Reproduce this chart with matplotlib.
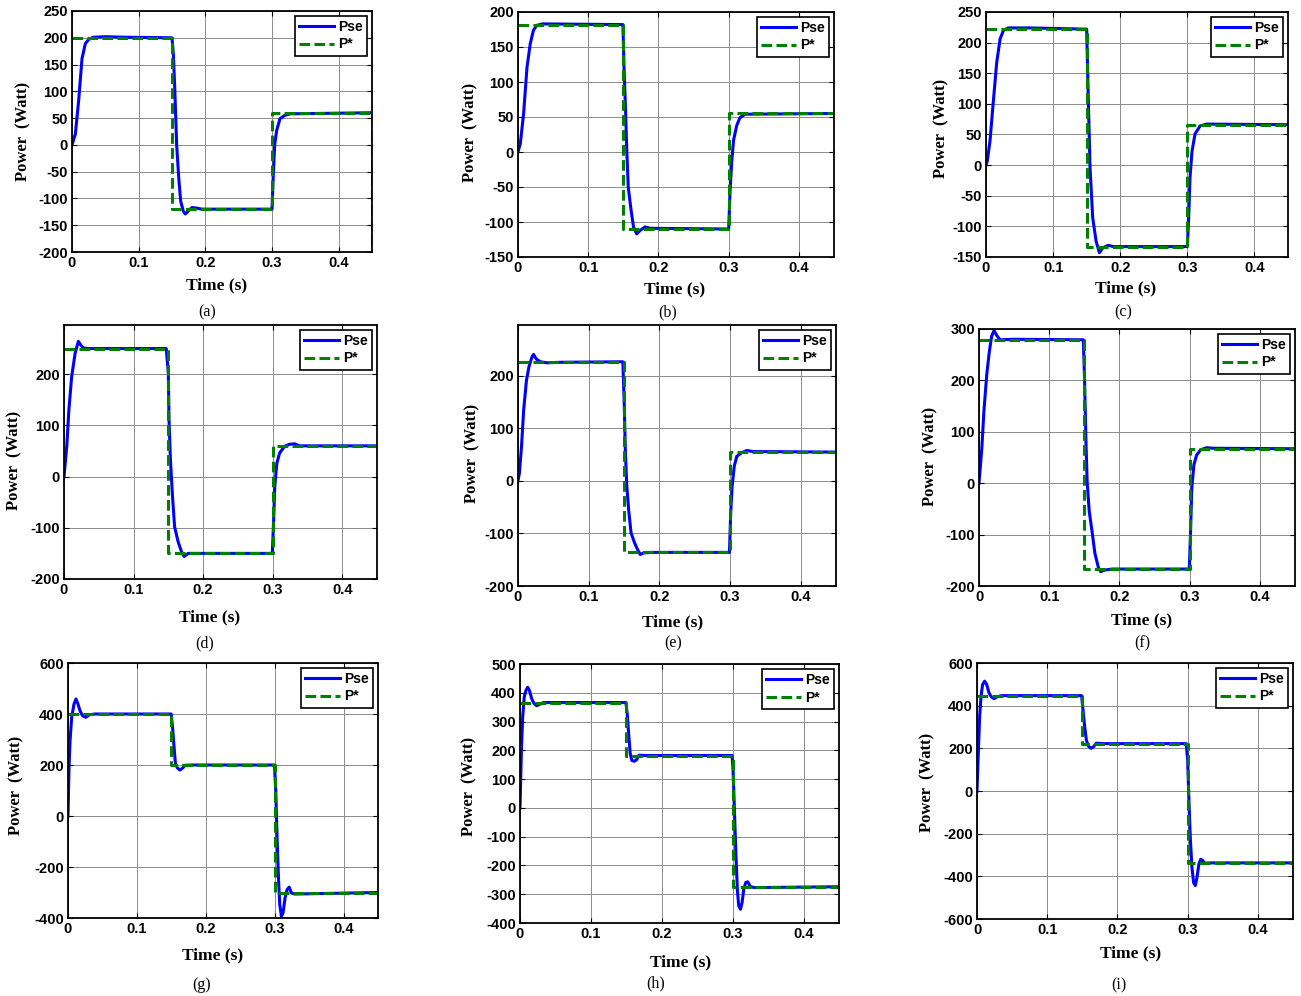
import numpy as np
from matplotlib import pyplot as plt

plt.rcParams['axes.unicode_minus'] = False

# P* reference (step changes at 0.15 s and 0.3 s)
t_ref = [0, 0.15, 0.15, 0.3, 0.3, 0.45]
t_ref_a = [0, 0.15, 0.15, 0.3, 0.3, 0.45, 0.45]
ref_a = [200, 200, -120, -120, 60, 60, -200]
ref_b = [182, 182, -110, -110, 55, 55]
ref_c = [222, 222, -133, -133, 66, 66]
ref_d = [250, 250, -150, -150, 60, 60]
ref_e = [227, 227, -136, -136, 55, 55]
ref_f = [279, 279, -167, -167, 67, 67]
ref_g = [400, 400, 200, 200, -300, -300]
ref_h = [366, 366, 182, 182, -274, -274]
ref_i = [447, 447, 222, 222, -337, -337]

t_a = [0, 0.005, 0.01, 0.015, 0.02, 0.025, 0.032, 0.05, 0.08, 0.15, 0.152, 0.154, 0.157,
       0.16, 0.163, 0.167, 0.17, 0.174, 0.18, 0.187, 0.195, 0.3, 0.302, 0.304, 0.307,
       0.312, 0.319, 0.327, 0.45]
pse_a = [0, 20, 83, 161, 189, 197, 201, 202, 201, 200, 170, 110, 0, -60, -105, -124, -129,
         -124, -117, -118, -120, -120, -55, 0, 27, 49, 55, 58, 60]

t_b = [0, 0.0033, 0.008, 0.0128, 0.0175, 0.022, 0.027, 0.035, 0.1494, 0.151, 0.153, 0.155,
       0.157, 0.161, 0.1645, 0.169, 0.174, 0.181, 0.188, 0.3, 0.302, 0.3045, 0.307, 0.3115,
       0.316, 0.3234, 0.45]
pse_b = [0, 12, 55, 121, 155, 174, 181, 183, 182, 121, 64, 0, -50, -83, -107, -117, -112,
         -107, -109, -110, -55, -12, 17, 38, 49, 54, 55]

t_c = [0, 0.002, 0.006, 0.011, 0.016, 0.021, 0.026, 0.033, 0.065, 0.15, 0.1525, 0.155, 0.159,
       0.164, 0.169, 0.174, 0.182, 0.19, 0.3, 0.302, 0.304, 0.307, 0.3115, 0.319, 0.329, 0.45]
pse_c = [0, 7, 40, 105, 168, 206, 220, 224, 224, 222, 105, -4, -86, -124, -143, -135, -131,
         -133, -133, -86, -20, 23, 51, 64, 67, 66]

t_d = [0, 0.0014, 0.004, 0.007, 0.011, 0.016, 0.0206, 0.024, 0.028, 0.035, 0.147, 0.15, 0.151,
       0.153, 0.156, 0.159, 0.164, 0.169, 0.1727, 0.1785, 0.19, 0.2995, 0.3014, 0.303, 0.306,
       0.31, 0.317, 0.324, 0.3316, 0.339, 0.45]
pse_d = [0, 20, 59, 130, 195, 241, 264, 257, 251, 250, 250, 202, 111, 33, -39, -98, -127, -147,
         -156, -150, -150, -150, -85, -20, 26, 46, 59, 63, 64, 60, 60]

t_e = [0, 0.002, 0.005, 0.008, 0.012, 0.0156, 0.02, 0.022, 0.026, 0.0316, 0.041, 0.06, 0.1484,
       0.1503, 0.152, 0.154, 0.1565, 0.16, 0.165, 0.169, 0.173, 0.1777, 0.19, 0.2992, 0.301,
       0.303, 0.306, 0.3096, 0.3167, 0.3237, 0.333, 0.45]
pse_e = [0, 15, 66, 135, 192, 218, 237, 241, 232, 227, 225, 226, 227, 148, 53, -10, -54, -99,
         -118, -130, -140, -137, -136, -136, -61, -10, 28, 47, 54, 58, 56, 55]

t_f = [0, 0.0014, 0.004, 0.007, 0.011, 0.0147, 0.018, 0.0214, 0.025, 0.03, 0.05, 0.1486,
       0.1504, 0.1523, 0.154, 0.157, 0.161, 0.165, 0.17, 0.1732, 0.179, 0.19, 0.2995, 0.3014,
       0.303, 0.306, 0.31, 0.3156, 0.324, 0.3336, 0.45]
pse_f = [0, 23, 68, 140, 211, 256, 286, 297, 288, 279, 280, 279, 198, 81, 3, -55, -94, -136,
         -164, -172, -169, -167, -167, -88, -10, 36, 55, 65, 69, 68, 67]

t_g = [0, 0.0015, 0.003, 0.0053, 0.0087, 0.0116, 0.0145, 0.0174, 0.0213, 0.0256, 0.031, 0.039,
       0.1498, 0.1518, 0.154, 0.156, 0.159, 0.1624, 0.1663, 0.17, 0.18, 0.2997, 0.3016, 0.3035,
       0.3055, 0.3074, 0.3098, 0.3122, 0.3151, 0.318, 0.321, 0.3243, 0.329, 0.45]
pse_g = [0, 190, 295, 387, 439, 459, 439, 413, 393, 387, 397, 400, 400, 348, 269, 203, 188, 180,
         188, 199, 200, 200, 98, -85, -243, -348, -393, -380, -321, -289, -279, -302, -306, -300]

t_h = [0, 0.002, 0.0038, 0.006, 0.0085, 0.0108, 0.0132, 0.0164, 0.0197, 0.0235, 0.027, 0.0329,
       0.1494, 0.1512, 0.1536, 0.1555, 0.1578, 0.161, 0.1644, 0.1677, 0.18, 0.2992, 0.3006,
       0.3025, 0.3044, 0.3067, 0.3086, 0.311, 0.3133, 0.3156, 0.3185, 0.3213, 0.325, 0.3311, 0.45]
pse_h = [0, 200, 316, 386, 409, 419, 409, 380, 363, 355, 359, 366, 366, 328, 247, 188, 165, 162,
         167, 183, 182, 182, 130, -9, -149, -288, -341, -352, -329, -283, -259, -257, -274, -277,
         -274]

t_i = [0, 0.002, 0.0038, 0.0057, 0.008, 0.0109, 0.0138, 0.0171, 0.0204, 0.0242, 0.0285, 0.0346,
       0.149, 0.1509, 0.1533, 0.1557, 0.1585, 0.1623, 0.1661, 0.1699, 0.18, 0.298, 0.3, 0.3018,
       0.3037, 0.3061, 0.3085, 0.3109, 0.3132, 0.316, 0.3185, 0.3208, 0.3246, 0.3313, 0.45]
pse_i = [0, 192, 350, 444, 499, 515, 499, 460, 441, 433, 441, 447, 447, 381, 302, 239, 211, 200,
         208, 224, 222, 222, 145, -44, -217, -359, -430, -443, -406, -343, -320, -324, -339, -337,
         -337]

ylims = {'a': (-200, 250), 'b': (-150, 200), 'c': (-150, 250), 'd': (-200, 296),
         'e': (-200, 297), 'f': (-200, 300), 'g': (-400, 600), 'h': (-400, 500),
         'i': (-600, 600)}
yticks = {'a': range(-200, 251, 50), 'b': range(-150, 201, 50), 'c': range(-150, 251, 50),
          'd': range(-200, 201, 100), 'e': range(-200, 201, 100), 'f': range(-200, 301, 100),
          'g': range(-400, 601, 200), 'h': range(-400, 501, 100), 'i': range(-600, 601, 200)}

panels = [('a', t_a, pse_a, t_ref_a, ref_a), ('b', t_b, pse_b, t_ref, ref_b),
          ('c', t_c, pse_c, t_ref, ref_c), ('d', t_d, pse_d, t_ref, ref_d),
          ('e', t_e, pse_e, t_ref, ref_e), ('f', t_f, pse_f, t_ref, ref_f),
          ('g', t_g, pse_g, t_ref, ref_g), ('h', t_h, pse_h, t_ref, ref_h),
          ('i', t_i, pse_i, t_ref, ref_i)]

# layout in pixels: axes box (l, t, r, b), ylabel centre, xlabel centre, caption centre
W, H = 1301, 996
boxes = {'a': (72, 11, 372, 252), 'b': (518, 12, 834, 257), 'c': (986, 12, 1288, 257),
         'd': (64, 325, 377, 579), 'e': (518, 325, 836, 586), 'f': (979, 329, 1295, 586),
         'g': (68, 663, 378, 918), 'h': (520, 664, 839, 923), 'i': (977, 663, 1293, 919)}
ylab_pos = {'a': (23, 131), 'b': (470, 132), 'c': (941, 128), 'd': (14, 460), 'e': (472, 453),
            'f': (930, 456), 'g': (16, 785), 'h': (469, 786), 'i': (927, 782)}
xlab_pos = {'a': (217, 285), 'b': (675, 289), 'c': (1126, 288), 'd': (210, 617), 'e': (673, 622),
            'f': (1142, 620), 'g': (213, 955), 'h': (681, 962), 'i': (1131, 953)}
cap_pos = {'a': (207, 312), 'b': (668, 312), 'c': (1123, 312), 'd': (205, 643), 'e': (673, 643),
           'f': (1142, 643), 'g': (202, 985), 'h': (656, 983), 'i': (1119, 985)}

fig = plt.figure(figsize=(13.01, 9.96), dpi=100)

for key, tt, pp, tr, pr in panels:
    l, t, r, b = boxes[key]
    ax = fig.add_axes([l / W, 1 - b / H, (r - l) / W, (b - t) / H])
    ax.plot(tt, pp, color='#0000ff', lw=2.2, label='Pse')
    ax.plot(tr, pr, color='#008000', lw=2.2, dashes=(3.5, 1.4), label='P*')
    ax.set_xlim(0, 0.45)
    ax.set_ylim(ylims[key])
    ax.set_xticks([0, 0.1, 0.2, 0.3, 0.4])
    ax.set_xticklabels(['0', '0.1', '0.2', '0.3', '0.4'])
    ax.set_yticks(list(yticks[key]))
    ax.set_axisbelow(True)
    ax.grid(True, color='#8c8c8c', lw=0.7)
    ax.tick_params(direction='in', top=True, right=True, length=3.5, width=0.8,
                   labelsize=10.5, pad=3)
    for lab in ax.get_xticklabels() + ax.get_yticklabels():
        lab.set_fontweight('bold')
        lab.set_fontfamily('Liberation Sans')
    for s in ax.spines.values():
        s.set_linewidth(1.3)

    leg = ax.legend(loc='upper right', fancybox=False, framealpha=1, borderaxespad=0.35,
                    handlelength=2.5, handletextpad=0.3, borderpad=0.3, labelspacing=0.25,
                    prop={'family': 'Liberation Sans', 'weight': 'bold', 'size': 10})
    leg.get_frame().set_edgecolor('k')
    leg.get_frame().set_linewidth(1.2)

    ax.set_ylabel('Power  (Watt)', family='Liberation Serif', weight='bold', fontsize=12)
    px, py = ylab_pos[key]
    ax.yaxis.set_label_coords((px - l) / (r - l), (b - py) / (b - t))
    ax.yaxis.label.set_verticalalignment('center')
    ax.set_xlabel('Time (s)', family='Liberation Serif', weight='bold', fontsize=12.5)
    px, py = xlab_pos[key]
    ax.xaxis.set_label_coords((px - l) / (r - l), (b - py) / (b - t))
    ax.xaxis.label.set_verticalalignment('center')

    px, py = cap_pos[key]
    fig.text(px / W, 1 - py / H, '(%s)' % key, family='Liberation Serif', fontsize=11.5,
             ha='center', va='center')

plt.savefig('out.png', dpi=100)
